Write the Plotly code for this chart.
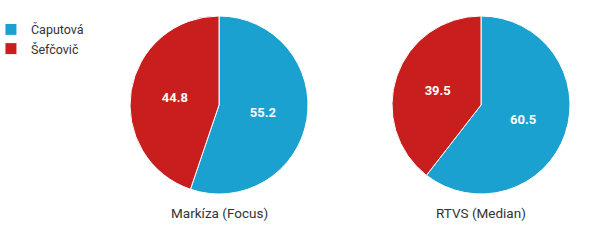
import plotly.graph_objects as go

candidates = ["Čaputová", "Šefčovič"]
markiza_focus = [55.2, 44.8]
rtvs_median = [60.5, 39.5]
poll_titles = ["Markíza (Focus)", "RTVS (Median)"]
colors = ["#1aa1cf", "#c81e1e"]

W, H = 603, 246

def dom(x0, x1, y0, y1):
    return dict(x=[x0 / W, x1 / W], y=[1 - y1 / H, 1 - y0 / H])

fig = go.Figure()
for i, (vals, d) in enumerate([(markiza_focus, dom(130, 308, 16, 194)),
                               (rtvs_median, dom(392, 570, 16, 194))]):
    fig.add_trace(go.Pie(
        labels=candidates, values=vals, domain=d,
        sort=False, direction="clockwise", rotation=0,
        marker=dict(colors=colors, line=dict(color="white", width=1)),
        texttemplate="%{value}", textposition="inside",
        insidetextorientation="horizontal",
        textfont=dict(family="Roboto", size=13, color="white", weight="bold"),
        showlegend=(i == 0), hoverinfo="label+value",
    ))

for t, xc in zip(poll_titles, [219, 481]):
    fig.add_annotation(text=t, x=xc / W, y=1 - 213 / H, xref="paper", yref="paper",
                       xanchor="center", yanchor="middle",
                       showarrow=False, font=dict(family="Roboto", size=13.5, color="#333333"))

fig.update_layout(
    width=W, height=H, margin=dict(l=0, r=0, t=0, b=0, autoexpand=False),
    paper_bgcolor="white", plot_bgcolor="white",
    font=dict(family="Roboto", size=12, color="#333333"),
    legend=dict(x=-0.015, y=0.94, xanchor="left", yanchor="top",
                font=dict(family="Roboto", size=12.5, color="#333333"),
                itemwidth=30, tracegroupgap=0),
)
fig.write_html("out.html")
